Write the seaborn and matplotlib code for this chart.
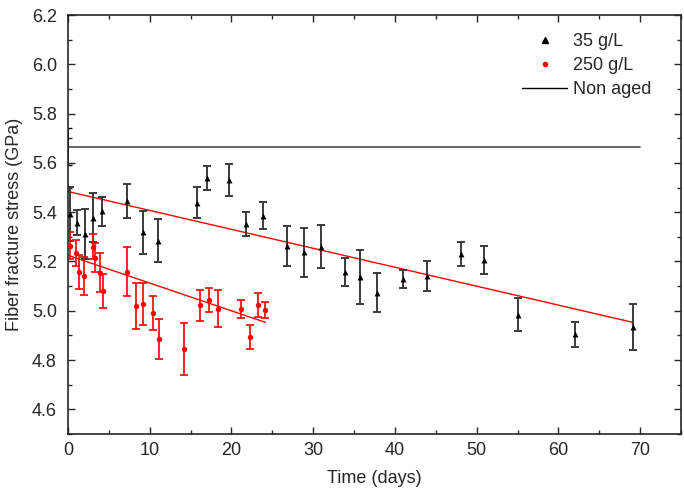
import matplotlib
matplotlib.use("Agg")
import matplotlib.pyplot as plt
from matplotlib.lines import Line2D
from matplotlib.ticker import MultipleLocator
import seaborn as sns
import pandas as pd

# 35 g/L ageing
days_35 = [0.25, 1.07, 2.08, 3.1, 4.13, 7.2, 9.15, 11.07, 15.77, 17.0, 19.65, 21.8, 23.87,
           26.85, 28.85, 30.9, 33.84, 35.71, 37.84, 40.99, 43.97, 48.14, 50.92, 55.08, 62.03, 69.1]
stress_35 = [5.393, 5.358, 5.311, 5.378, 5.403, 5.446, 5.318, 5.284, 5.439, 5.538, 5.530, 5.352, 5.385,
             5.262, 5.237, 5.260, 5.158, 5.138, 5.074, 5.129, 5.142, 5.230, 5.206, 4.984, 4.905, 4.935]
err_35 = [0.11, 0.05, 0.10, 0.10, 0.06, 0.068, 0.088, 0.088, 0.063, 0.048, 0.065, 0.05, 0.055,
          0.08, 0.098, 0.088, 0.058, 0.11, 0.081, 0.035, 0.06, 0.05, 0.057, 0.066, 0.05, 0.093]

# 250 g/L ageing
days_250 = [0.29, 0.98, 1.3, 2.0, 3.02, 3.35, 3.96, 4.33, 7.23, 8.34, 9.23, 10.34, 11.16, 14.22,
            16.18, 17.2, 18.35, 21.2, 22.23, 23.2, 24.15]
stress_250 = [5.264, 5.234, 5.158, 5.142, 5.26, 5.216, 5.155, 5.081, 5.159, 5.02, 5.027, 4.99, 4.885, 4.845,
              5.023, 5.043, 5.009, 5.007, 4.895, 5.023, 5.003]
err_250 = [0.054, 0.054, 0.07, 0.078, 0.05, 0.06, 0.08, 0.07, 0.10, 0.093, 0.085, 0.068, 0.08, 0.107,
           0.063, 0.05, 0.075, 0.037, 0.049, 0.05, 0.034]

# linear fits (end points)
fit_35_x = [0, 69.1]
fit_35_y = [5.484, 4.953]
fit_250_x = [0, 24.15]
fit_250_y = [5.225, 4.953]

# non aged reference
non_aged_x = [0, 70]
non_aged_y = [5.665, 5.665]
non_aged_err = 0.075

df35 = pd.DataFrame({"day": days_35, "stress": stress_35})
df250 = pd.DataFrame({"day": days_250, "stress": stress_250})

sns.set_style("ticks")
plt.rcParams["font.family"] = ["Liberation Sans", "DejaVu Sans"]
FS = 13

fig = plt.figure(figsize=(6.84, 4.88), dpi=100)
ax = fig.add_axes([68 / 684, 1 - 434 / 488, 613 / 684, 419 / 488])

# reference line
sns.lineplot(x=non_aged_x, y=non_aged_y, ax=ax, color="#5a5a5a", lw=1.3)
ax.errorbar(non_aged_x[0], non_aged_y[0], yerr=non_aged_err, fmt="none", ecolor="black",
            elinewidth=1.2, capsize=3, clip_on=True)

# fits
sns.lineplot(x=fit_35_x, y=fit_35_y, ax=ax, color="red", lw=1)
sns.lineplot(x=fit_250_x, y=fit_250_y, ax=ax, color="red", lw=1)

# error bars
ax.errorbar(days_35, stress_35, yerr=err_35, fmt="none", ecolor="#3a3a3a", elinewidth=1.4,
            capsize=3, capthick=1.4)
ax.errorbar(days_250, stress_250, yerr=err_250, fmt="none", ecolor="red", elinewidth=1.2,
            capsize=3, capthick=1.2)

sns.scatterplot(data=df35, x="day", y="stress", ax=ax, marker="^", color="black", s=18,
                edgecolor="black", linewidth=0, zorder=5)
sns.scatterplot(data=df250, x="day", y="stress", ax=ax, marker="o", color="red", s=15,
                edgecolor="red", linewidth=0, zorder=5)

ax.set_xlim(0, 75)
ax.set_ylim(4.5, 6.2)
ax.xaxis.set_major_locator(MultipleLocator(10))
ax.xaxis.set_minor_locator(MultipleLocator(5))
ax.yaxis.set_major_locator(MultipleLocator(0.2))
ax.yaxis.set_minor_locator(MultipleLocator(0.1))
ax.yaxis.set_major_formatter(plt.FormatStrFormatter("%.1f"))
ax.tick_params(which="both", direction="in", top=True, right=True, labelsize=FS, width=1)
ax.tick_params(which="major", length=5)
ax.tick_params(which="minor", length=3)
ax.tick_params(axis="x", pad=6)
ax.tick_params(axis="y", pad=8)
for sp in ax.spines.values():
    sp.set_linewidth(1.2)

ax.set_xlabel("Time (days)", fontsize=FS)
ax.set_ylabel("Fiber fracture stress (GPa)", fontsize=FS)
ax.xaxis.set_label_coords(0.5, -0.085)
ax.yaxis.set_label_coords(-0.074, 0.5)

handles = [
    Line2D([], [], marker="^", color="black", ls="none", markersize=4),
    Line2D([], [], marker="o", color="red", ls="none", markersize=3),
    Line2D([], [], color="black", lw=1),
]
ax.legend(handles, ["35 g/L", "250 g/L", "Non aged"], loc="upper left",
          bbox_to_anchor=(522 / 684, 1 - 33 / 488), bbox_transform=fig.transFigure,
          frameon=False, fontsize=FS, borderpad=0, borderaxespad=0,
          handlelength=2.5, handletextpad=0.35, labelspacing=0.4)

fig.savefig("out.png", dpi=100)
